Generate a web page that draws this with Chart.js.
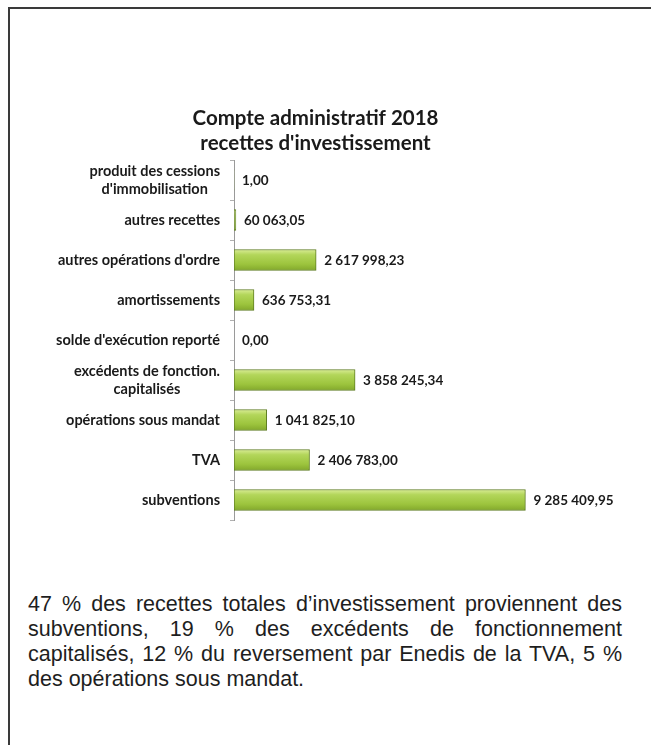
<!DOCTYPE html>
<html>
<head>
<meta charset="utf-8">
<script src="https://cdn.jsdelivr.net/npm/chart.js@4.4.1/dist/chart.umd.min.js"></script>
<style>
  body { margin: 0; background: #fff; width: 651px; height: 745px; overflow: hidden; position: relative; }
  #frame { position: absolute; left: 8px; top: 7px; width: 660px; height: 760px; border-top: 2px solid #3a3a3a; border-left: 2px solid #3a3a3a; }
  #wrap { position: absolute; left: 0; top: 80px; width: 651px; height: 450px; }
  #note { position: absolute; left: 28px; top: 592px; width: 594px; font-family: "Liberation Sans", Arial, sans-serif; font-size: 21.5px; line-height: 25px; color: #1e1e1e; text-align: justify; }
</style>
</head>
<body>
<div id="frame"></div>
<div id="wrap"><canvas id="recettesChart"></canvas></div>
<div id="note">47&nbsp;% des recettes totales d’investissement proviennent des subventions, 19&nbsp;% des excédents de fonctionnement capitalisés, 12&nbsp;% du reversement par Enedis de la TVA, 5&nbsp;% des opérations sous mandat.</div>
<script>
var categories = [
  ["produit des cessions", "d'immobilisation"],
  ["autres recettes"],
  ["autres opérations d'ordre"],
  ["amortissements"],
  ["solde d'exécution reporté"],
  ["excédents de fonction.", "capitalisés"],
  ["opérations sous mandat"],
  ["TVA"],
  ["subventions"]
];
var montants = [1.00, 60063.05, 2617998.23, 636753.31, 0.00, 3858245.34, 1041825.10, 2406783.00, 9285409.95];
var titre = ["Compte administratif 2018", "recettes d'investissement"];

function formatEuro(v) {
  var parts = v.toFixed(2).split(".");
  var ent = parts[0].replace(/\B(?=(\d{3})+(?!\d))/g, " ");
  return ent + "," + parts[1];
}

var BAR_H = 21;

// green bar with a light top edge, like the office chart style
function barFill(c) {
  var chart = c.chart;
  var ys = chart.scales && chart.scales.y;
  if (!ys || c.dataIndex === undefined) return "#a6cc48";
  var y = ys.getPixelForValue(c.dataIndex);
  if (!isFinite(y)) return "#a6cc48";
  var g = chart.ctx.createLinearGradient(0, y - BAR_H / 2, 0, y + BAR_H / 2);
  g.addColorStop(0, "#d9ec96");
  g.addColorStop(0.25, "#b3d65a");
  g.addColorStop(0.7, "#9cc43d");
  g.addColorStop(1, "#82a82c");
  return g;
}

// labels on the left (centred lines when there are two) and values after the bars
var labelsPlugin = {
  id: "labelsPlugin",
  afterDraw: function (chart) {
    var ctx = chart.ctx;
    var ys = chart.scales.y;
    var meta = chart.getDatasetMeta(0);
    ctx.save();
    ctx.fillStyle = "#1a1a1a";
    ctx.textBaseline = "middle";
    ctx.font = "bold 14.5px Lato";
    var right = ys.right - 14;
    categories.forEach(function (lines, i) {
      var y = ys.getPixelForValue(i);
      var maxW = 0;
      lines.forEach(function (l) { maxW = Math.max(maxW, ctx.measureText(l).width); });
      var cx = right - maxW / 2;
      var lh = 18;
      var y0 = y - (lines.length - 1) * lh / 2;
      ctx.textAlign = "center";
      lines.forEach(function (l, k) { ctx.fillText(l, cx, y0 + k * lh); });
    });
    ctx.font = "bold 13.5px Lato";
    ctx.textAlign = "left";
    meta.data.forEach(function (bar, i) {
      ctx.fillText(formatEuro(montants[i]), bar.x + 8, bar.y + 1);
    });
    ctx.restore();
  }
};

var ctx = document.getElementById("recettesChart");
var myChart = new Chart(ctx, {
  type: "bar",
  data: {
    labels: categories,
    datasets: [{
      data: montants,
      backgroundColor: barFill,
      borderColor: "#5f7d22",
      borderWidth: 1,
      borderSkipped: false,
      barThickness: BAR_H
    }]
  },
  options: {
    indexAxis: "y",
    responsive: true,
    maintainAspectRatio: false,
    animation: false,
    layout: { padding: { left: 0, right: 20, top: 0, bottom: 10 } },
    plugins: {
      legend: { display: false },
      tooltip: { enabled: false },
      title: {
        display: true,
        text: titre,
        color: "#1a1a1a",
        font: { family: "Lato", weight: "bold", size: 20.5, lineHeight: 1.22 },
        padding: { top: 26, bottom: 4 }
      }
    },
    scales: {
      x: {
        display: false,
        min: 0,
        max: 12650000
      },
      y: {
        afterFit: function (scale) { scale.width = 234; },
        border: { display: true, color: "#9a9a9a", width: 1 },
        grid: { display: true, drawOnChartArea: false, offset: true, tickLength: 4, color: "#b0b0b0" },
        ticks: { display: false }
      }
    }
  },
  plugins: [labelsPlugin]
});
</script>
</body>
</html>
